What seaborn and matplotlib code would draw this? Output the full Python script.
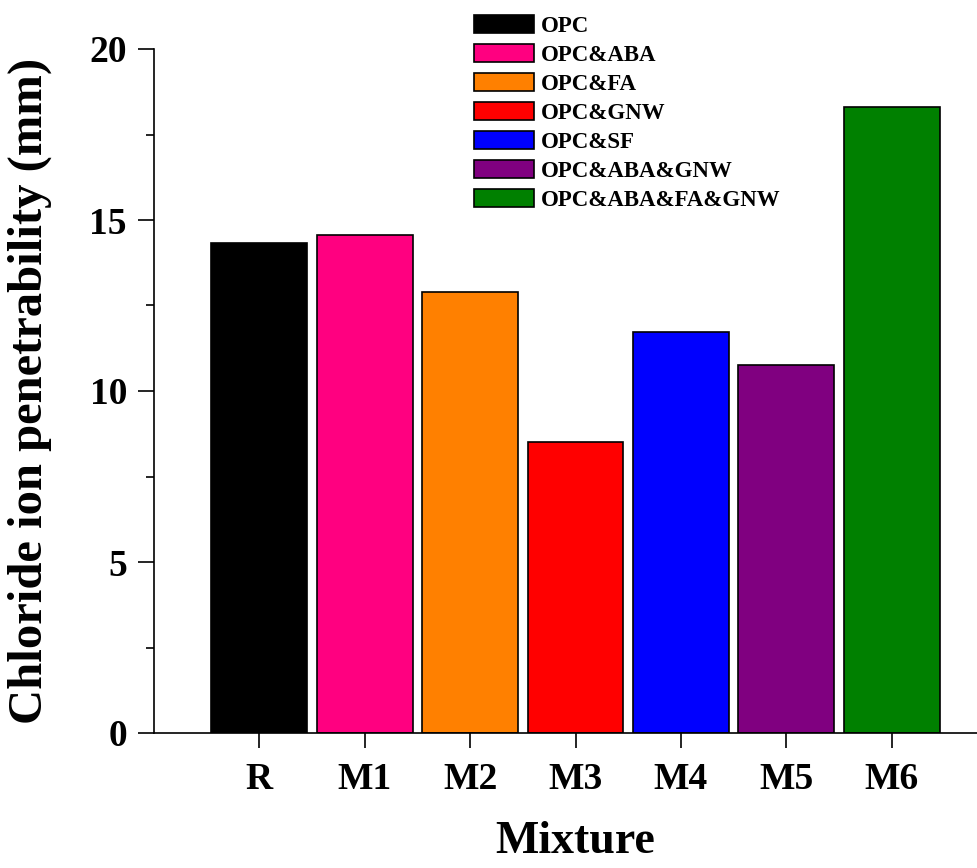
import numpy as np
import pandas as pd
import matplotlib
matplotlib.use("Agg")
import matplotlib.pyplot as plt
import seaborn as sns
from matplotlib.ticker import MultipleLocator

# --- data ---
mixtures = ["R", "M1", "M2", "M3", "M4", "M5", "M6"]
compositions = ["OPC", "OPC&ABA", "OPC&FA", "OPC&GNW", "OPC&SF",
                "OPC&ABA&GNW", "OPC&ABA&FA&GNW"]
penetrability = [14.33, 14.57, 12.90, 8.50, 11.72, 10.77, 18.31]
bar_colors = ["#000000", "#FF0080", "#FF8000", "#FF0000", "#0000FF",
              "#800080", "#008000"]

df = pd.DataFrame({"Mixture": mixtures, "Composition": compositions,
                   "Value": penetrability})

sns.set_style("ticks")
plt.rcParams['font.family'] = ['Liberation Serif', 'DejaVu Serif']
plt.rcParams['font.weight'] = 'bold'
plt.rcParams['text.color'] = 'black'
plt.rcParams['axes.labelcolor'] = 'black'
plt.rcParams['xtick.color'] = 'black'
plt.rcParams['ytick.color'] = 'black'
plt.rcParams['axes.edgecolor'] = 'black'

fig = plt.figure(figsize=(9.78, 8.68), dpi=100)
ax = fig.add_axes([154 / 978, 135 / 868, 823 / 978, 684 / 868])

sns.barplot(data=df, x="Mixture", y="Value", hue="Composition",
            hue_order=compositions, palette=bar_colors, dodge=False,
            saturation=1, width=0.91, edgecolor="black", linewidth=1.2,
            ax=ax)

ax.set_xlim(-1.0, 6.81)
ax.set_ylim(0, 20)
ax.yaxis.set_major_locator(MultipleLocator(5))
ax.yaxis.set_minor_locator(MultipleLocator(2.5))

sns.despine(ax=ax, top=True, right=True)
for s in ["left", "bottom"]:
    ax.spines[s].set_linewidth(1.2)

ax.tick_params(axis="y", which="major", direction="out", length=11.5,
               width=1.2, labelsize=27, pad=8)
ax.tick_params(axis="y", which="minor", direction="out", length=6, width=1.2)
ax.tick_params(axis="x", which="major", direction="out", length=11,
               width=1.2, labelsize=27, pad=10)
for lab in ax.get_xticklabels() + ax.get_yticklabels():
    lab.set_fontweight("bold")

ax.set_ylabel("Chloride ion penetrability (mm)", fontsize=35, fontweight="bold")
ax.set_xlabel("Mixture", fontsize=33, fontweight="bold")
ax.yaxis.set_label_coords(-0.124, 0.5)
ax.xaxis.set_label_coords(0.512, -0.128)

handles, labels = ax.get_legend_handles_labels()
ax.legend(handles, labels, loc="upper left",
          bbox_to_anchor=(474 / 978, 1 - 15 / 868),
          bbox_transform=fig.transFigure, frameon=False,
          prop={"size": 16.5, "weight": "bold"},
          handlelength=2.6, handleheight=0.85, handletextpad=0.3,
          labelspacing=0.3, borderpad=0, borderaxespad=0)

fig.savefig("out.png", dpi=100)
